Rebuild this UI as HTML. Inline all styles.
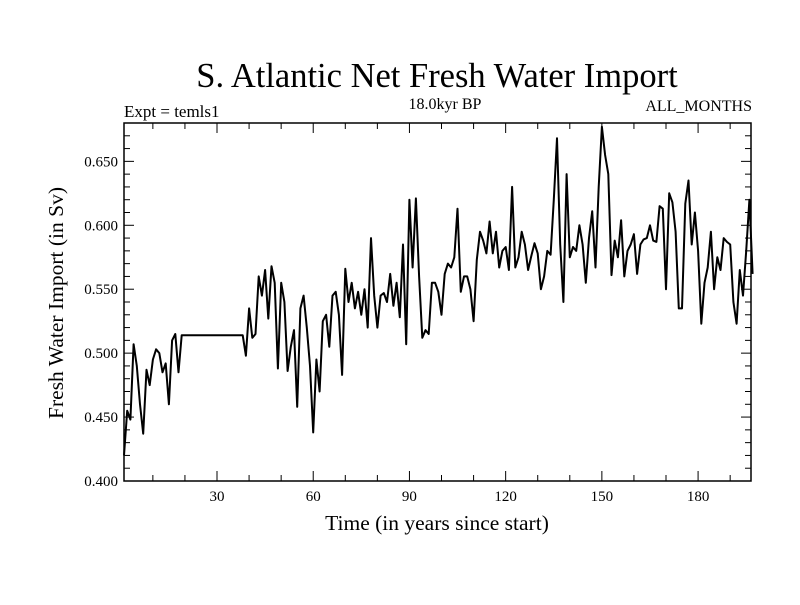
<!DOCTYPE html>
<html><head><meta charset="utf-8"><style>
body{margin:0;background:#fff}
svg text{font-family:"Liberation Serif",serif;fill:#000}
</style></head><body>
<svg id="chart" width="800" height="600" xmlns="http://www.w3.org/2000/svg">
<rect width="800" height="600" fill="#fff"/>
<text x="437" y="87" font-size="34.5" text-anchor="middle">S. Atlantic Net Fresh Water Import</text>
<text x="124" y="117" font-size="17">Expt = temls1</text>
<text x="445" y="109" font-size="16" text-anchor="middle">18.0kyr BP</text>
<text x="752" y="111" font-size="16" text-anchor="end">ALL_MONTHS</text>
<text x="437" y="530" font-size="21.5" text-anchor="middle">Time (in years since start)</text>
<text transform="translate(63,303) rotate(-90)" font-size="21.5" text-anchor="middle">Fresh Water Import (in Sv)</text>
<g id="axes"></g>
<path id="series" fill="none" stroke="#000" stroke-width="2" stroke-linejoin="round"/>
<rect x="124" y="123" width="627" height="358" fill="none" stroke="#000" stroke-width="1.5"/>
</svg>
<script>
const xTicks=[30,60,90,120,150,180];
const xTickLabels=["30","60","90","120","150","180"];
const yTicks=[0.40,0.45,0.50,0.55,0.60,0.65];
const yTickLabels=["0.400","0.450","0.500","0.550","0.600","0.650"];
const values=[0.420,0.455,0.448,0.507,0.490,0.460,0.437,0.487,0.475,0.495,0.503,0.500,0.485,0.492,0.460,0.510,0.515,0.485,0.514,0.514,
0.514,0.514,0.514,0.514,0.514,0.514,0.514,0.514,0.514,0.514,0.514,0.514,0.514,0.514,0.514,0.514,0.514,0.514,
0.498,0.535,0.512,0.515,0.560,0.545,0.565,0.527,0.568,0.555,0.488,0.555,0.540,0.486,0.505,0.518,0.458,0.535,0.545,0.520,0.490,0.438,
0.495,0.470,0.525,0.530,0.505,0.545,0.548,0.530,0.483,0.566,0.540,0.555,0.535,0.548,0.530,0.550,0.520,0.590,0.545,0.520,
0.545,0.547,0.540,0.562,0.537,0.555,0.528,0.585,0.507,0.620,0.567,0.621,0.560,0.512,0.518,0.515,0.555,0.555,0.548,0.530,
0.562,0.570,0.567,0.575,0.613,0.548,0.560,0.560,0.550,0.525,0.573,0.595,0.588,0.578,0.603,0.578,0.595,0.567,0.580,0.583,
0.565,0.630,0.567,0.575,0.595,0.585,0.565,0.576,0.586,0.578,0.550,0.560,0.580,0.577,0.620,0.668,0.585,0.540,0.640,0.575,
0.583,0.580,0.600,0.585,0.555,0.590,0.611,0.567,0.630,0.677,
0.655,0.640,0.561,0.588,0.575,0.604,0.560,0.580,0.585,0.593,0.562,0.585,0.589,0.590,0.600,0.588,0.587,0.615,0.613,0.550,
0.625,0.618,0.595,0.535,0.535,0.617,0.635,0.585,0.610,0.580,0.523,0.555,0.567,0.595,0.550,0.575,0.565,0.590,0.587,0.585,
0.540,0.523,0.565,0.545,0.580,0.620,0.562];
const years=values.map((v,i)=>i+1);
const X0=124,X1=751,Y0=481,Y1=123,XMIN=1,XMAX=196.5,YMIN=0.4,YMAX=0.68;
const sx=t=>X0+(t-XMIN)/(XMAX-XMIN)*(X1-X0);
const sy=v=>Y0-(v-YMIN)/(YMAX-YMIN)*(Y0-Y1);
const NS="http://www.w3.org/2000/svg";
const axes=document.getElementById('axes');
function line(x1,y1,x2,y2,name){const l=document.createElementNS(NS,'line');
l.setAttribute('x1',x1);l.setAttribute('y1',y1);l.setAttribute('x2',x2);l.setAttribute('y2',y2);
l.setAttribute('stroke','#000');l.setAttribute('stroke-width','1');


axes.appendChild(l);}
function text(x,y,s,anchor,name){const t=document.createElementNS(NS,'text');
t.setAttribute('x',x);t.setAttribute('y',y);t.setAttribute('font-size','15');t.setAttribute('text-anchor',anchor);t.textContent=s;


axes.appendChild(t);}
for(let t=10;t<=XMAX;t+=10){const x=sx(t);const L=(t%30===0)?10:6;
line(x,Y0,x,Y0-L,'x-tick');line(x,Y1,x,Y1+L,'x-tick-top');}
xTicks.forEach((t,i)=>text(sx(t),Y0+20,xTickLabels[i],'middle','x-tick-label'));
for(let k=0;k<=28;k++){const v=YMIN+k*0.01;const y=sy(v);const L=(k%5===0)?10:6;
line(X0,y,X0+L,y,'y-tick');line(X1,y,X1-L,y,'y-tick-right');}
yTicks.forEach((v,i)=>text(X0-6,sy(v)+5,yTickLabels[i],'end','y-tick-label'));
document.getElementById('series').setAttribute('d',values.map((v,i)=>(i?'L':'M')+sx(years[i]).toFixed(1)+' '+sy(v).toFixed(1)).join(''));
</script>
</body></html>
